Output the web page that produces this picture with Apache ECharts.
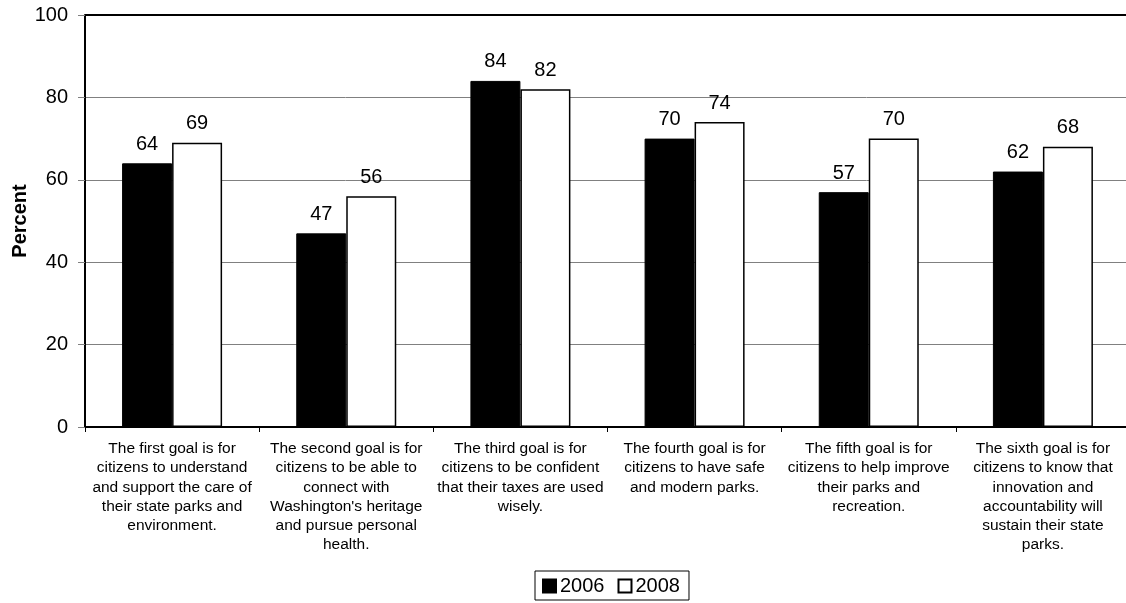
<!DOCTYPE html>
<html>
<head>
<meta charset="utf-8">
<script src="https://cdn.jsdelivr.net/npm/echarts@6/dist/echarts.min.js"></script>
<style>html,body{margin:0;padding:0;background:#fff}#c{width:1126px;height:603px}</style>
</head>
<body>
<div id="c"></div>
<script>
const categories = [
  "The first goal is for\ncitizens to understand\nand support the care of\ntheir state parks and\nenvironment.",
  "The second goal is for\ncitizens to be able to\nconnect with\nWashington's heritage\nand pursue personal\nhealth.",
  "The third goal is for\ncitizens to be confident\nthat their taxes are used\nwisely.",
  "The fourth goal is for\ncitizens to have safe\nand modern parks.",
  "The fifth goal is for\ncitizens to help improve\ntheir parks and\nrecreation.",
  "The sixth goal is for\ncitizens to know that\ninnovation and\naccountability will\nsustain their state\nparks."
];
const values2006 = [64, 47, 84, 70, 57, 62];
const values2008 = [69, 56, 82, 74, 70, 68];
const seriesNames = ["2006", "2008"];

const chart = echarts.init(document.getElementById('c'));
const font = 'Liberation Sans, Arial, sans-serif';
chart.setOption({
  animation: false,
  textStyle: { fontFamily: font },
  grid: { left: 85, top: 15, right: -4, bottom: 176, containLabel: false, outerBoundsMode: 'none' },
  legend: {
    bottom: 3,
    left: 535,
    borderColor: '#000',
    borderWidth: 1,
    padding: [5, 9, 4, 7],
    itemWidth: 13,
    itemHeight: 13,
    itemGap: 13,
    icon: 'rect',
    textStyle: { fontSize: 20, color: '#000', fontFamily: font, padding: [0, 0, 0, -1] },
    data: seriesNames
  },
  xAxis: {
    type: 'category',
    data: categories,
    axisLine: { lineStyle: { color: '#000', width: 2 } },
    axisTick: { show: true, length: 5, lineStyle: { color: '#000' } },
    axisLabel: { color: '#000', fontSize: 15.5, lineHeight: 19.3, margin: 12, interval: 0, align: 'center' }
  },
  yAxis: {
    type: 'value',
    min: 0, max: 100, interval: 20,
    name: 'Percent',
    nameLocation: 'middle',
    nameGap: 55,
    nameMoveOverlap: false,
    nameTextStyle: { fontSize: 20, fontWeight: 'bold', color: '#000' },
    axisLine: { show: true, lineStyle: { color: '#000', width: 2 } },
    axisTick: { show: true, length: 7, lineStyle: { color: '#808080' } },
    axisLabel: { color: '#000', fontSize: 20, margin: 17 },
    splitLine: { show: true, lineStyle: { color: '#808080', width: 1 } }
  },
  series: [
    {
      name: seriesNames[0], type: 'bar', data: values2006,
      barWidth: 50, barGap: '0%',
      itemStyle: { color: '#000', borderColor: '#000', borderWidth: 1 },
      label: { show: true, position: 'top', color: '#000', fontSize: 20, distance: 9 }
    },
    {
      name: seriesNames[1], type: 'bar', data: values2008,
      barWidth: 50, barGap: '0%',
      itemStyle: { color: '#fff', borderColor: '#000', borderWidth: 1.5 },
      label: { show: true, position: 'top', color: '#000', fontSize: 20, distance: 9 }
    }
  ],
  graphic: [{
    type: 'line', z: 10,
    shape: { x1: 85, y1: 15, x2: 1126, y2: 15 },
    style: { stroke: '#000', lineWidth: 2 }
  }]
});
</script>
</body>
</html>
